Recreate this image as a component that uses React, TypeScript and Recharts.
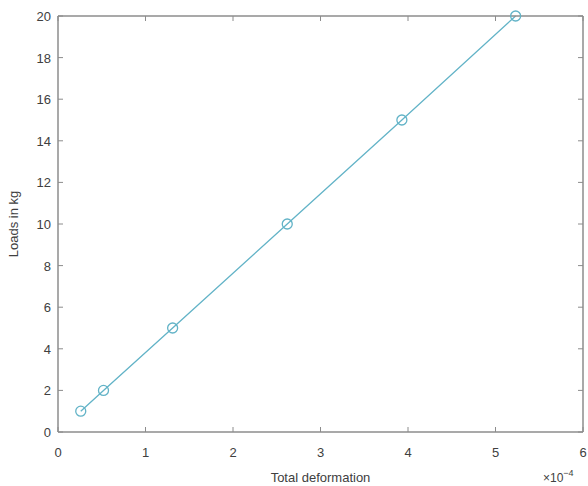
import { LineChart, Line, XAxis, YAxis, Label } from "recharts";

// deformation in units of 1e-4, loads in kg
const deformation = [0.26, 0.52, 1.31, 2.62, 3.93, 5.23];
const loads = [1, 2, 5, 10, 15, 20];
const xTicks = [0, 1, 2, 3, 4, 5, 6];
const yTicks = [0, 2, 4, 6, 8, 10, 12, 14, 16, 18, 20];

const data = deformation.map((d, i) => ({ d, load: loads[i] }));

const AXIS = "#8c8c8c";
const TEXT = "#404040";
const LINE = "#62b3c7";
const FONT = "'Liberation Sans', Arial, sans-serif";

type TickProps = { x: number; y: number; payload: { value: number } };

const BottomTick = ({ x, y, payload }: TickProps) => (
  <g>
    <line x1={x} y1={y} x2={x} y2={y - 5} stroke={AXIS} />
    <text x={x} y={y + 25} textAnchor="middle" fill={TEXT} fontSize={13} fontFamily={FONT}>
      {payload.value}
    </text>
  </g>
);

const LeftTick = ({ x, y, payload }: TickProps) => (
  <g>
    <line x1={x} y1={y} x2={x + 5} y2={y} stroke={AXIS} />
    <text x={x - 7} y={y + 5} textAnchor="end" fill={TEXT} fontSize={13} fontFamily={FONT}>
      {payload.value}
    </text>
  </g>
);

const TopTick = ({ x, y }: TickProps) => (
  <line x1={x} y1={y} x2={x} y2={y + 5} stroke={AXIS} />
);

const RightTick = ({ x, y }: TickProps) => (
  <line x1={x} y1={y} x2={x - 5} y2={y} stroke={AXIS} />
);

export default function App() {
  return (
    <div style={{ position: "absolute", left: 0, top: 0, background: "#fff" }}>
      <LineChart width={588} height={486} data={data} margin={{ top: 15, right: 4, bottom: 0, left: 0 }}>
        <XAxis
          xAxisId="b"
          dataKey="d"
          type="number"
          domain={[0, 6]}
          ticks={xTicks}
          height={54}
          tickSize={0}
          tickMargin={0}
          tickLine={false}
          stroke={AXIS}
          strokeWidth={1.5}
          tick={BottomTick as any}
        >
          <Label
            value="Total deformation"
            position="insideBottom"
            offset={4}
            style={{ fill: TEXT, fontSize: 13, fontFamily: FONT }}
          />
        </XAxis>
        <XAxis
          xAxisId="t"
          orientation="top"
          dataKey="d"
          type="number"
          domain={[0, 6]}
          ticks={xTicks}
          height={1}
          tickSize={0}
          tickMargin={0}
          tickLine={false}
          stroke={AXIS}
          strokeWidth={1.5}
          tick={TopTick as any}
        />
        <YAxis
          yAxisId="l"
          type="number"
          domain={[0, 20]}
          ticks={yTicks}
          width={58}
          tickSize={0}
          tickMargin={0}
          tickLine={false}
          stroke={AXIS}
          strokeWidth={1.5}
          tick={LeftTick as any}
        >
          <Label
            value="Loads in kg"
            angle={-90}
            position="insideLeft"
            offset={13}
            style={{ fill: TEXT, fontSize: 13, fontFamily: FONT, textAnchor: "middle" }}
          />
        </YAxis>
        <YAxis
          yAxisId="r"
          orientation="right"
          type="number"
          domain={[0, 20]}
          ticks={yTicks}
          width={1}
          tickSize={0}
          tickMargin={0}
          tickLine={false}
          stroke={AXIS}
          strokeWidth={1.5}
          tick={RightTick as any}
        />
        {/* invisible series so the top/right box axes are drawn */}
        <Line
          xAxisId="t"
          yAxisId="r"
          dataKey="load"
          stroke="none"
          dot={false}
          activeDot={false}
          isAnimationActive={false}
        />
        <Line
          xAxisId="b"
          yAxisId="l"
          dataKey="load"
          stroke={LINE}
          strokeWidth={1.3}
          dot={{ r: 5, stroke: LINE, strokeWidth: 1.3, fill: "none" }}
          isAnimationActive={false}
        />
        <text x={543} y={482} fill={TEXT} fontSize={12} fontFamily={FONT}>
          ×10
          <tspan dy={-6} fontSize={9}>−4</tspan>
        </text>
      </LineChart>
    </div>
  );
}
